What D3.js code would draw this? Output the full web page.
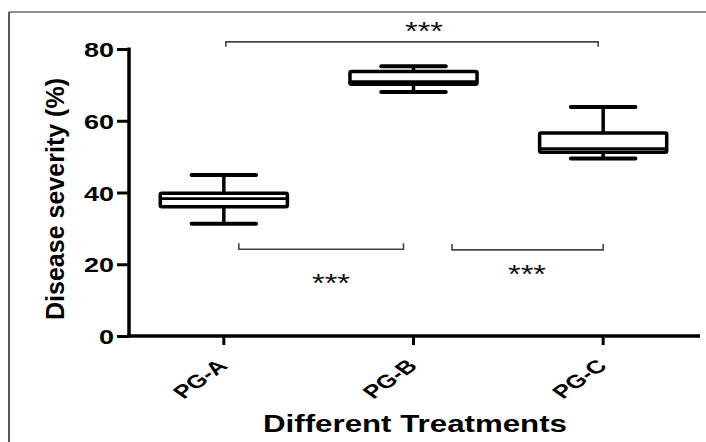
<!DOCTYPE html>
<html>
<head>
<meta charset="utf-8">
<script src="https://cdn.jsdelivr.net/npm/d3@7"></script>
<style>
  body { margin: 0; background: #fff; }
  text { font-family: Arial, "Liberation Sans", sans-serif; }
</style>
</head>
<body>
<svg id="chart" width="706" height="442"></svg>
<script>
// groups and box-plot values
let groups = ['PG-A', 'PG-B', 'PG-C'];
let whiskerLow = [31.3, 68.0, 49.5];
let q1 = [36.0, 70.2, 51.2];
let median = [38.3, 70.9, 52.2];
let q3 = [39.8, 73.7, 56.6];
let whiskerHigh = [44.9, 75.2, 63.8];
let yTicks = [0, 20, 40, 60, 80];

// significance brackets: from group, to group, level (y value)
let bracketFrom = ['PG-A', 'PG-A', 'PG-B'];
let bracketTo = ['PG-C', 'PG-B', 'PG-C'];
let bracketLevel = [82, 24.2, 24.0];
let bracketLabels = ['***', '***', '***'];

let svg = d3.select('#chart');

// frame round the figure
svg.append('line').attr('x1', 9).attr('x2', 706).attr('y1', 12).attr('y2', 12)
  .attr('stroke', '#666').attr('stroke-width', 1.5);
svg.append('line').attr('x1', 9).attr('x2', 9).attr('y1', 12).attr('y2', 442)
  .attr('stroke', '#222').attr('stroke-width', 1.5);

let x = d3.scaleBand().domain(groups).range([129, 698]).padding(0);
let y = d3.scaleLinear().domain([0, 80]).range([336, 49]);
let cx = g => x(g) + x.bandwidth() / 2;
let boxW = x.bandwidth() * 0.67;
let capW = x.bandwidth() * 0.34;

// y axis
let yAxis = svg.append('g')
  .attr('transform', 'translate(129,0)')
  .call(d3.axisLeft(y).tickValues(yTicks).tickSize(12).tickPadding(3));
yAxis.select('.domain').remove();
yAxis.selectAll('.tick line').attr('stroke', '#000').attr('stroke-width', 3);
yAxis.selectAll('.tick text')
  .attr('fill', '#000')
  .style('font-size', '21px').style('font-weight', 'bold')
  .attr('dy', '0.36em')
  .attr('textLength', d => String(d).length * 15)
  .attr('lengthAdjust', 'spacingAndGlyphs');
svg.append('line').attr('x1', 129).attr('x2', 129).attr('y1', y(80) - 1.5).attr('y2', 336)
  .attr('stroke', '#000').attr('stroke-width', 3.5);

// x axis
let xAxis = svg.append('g')
  .attr('transform', 'translate(0,336)')
  .call(d3.axisBottom(x).tickSize(9).tickFormat(''));
xAxis.select('.domain').remove();
xAxis.selectAll('.tick line').attr('stroke', '#000').attr('stroke-width', 3);
svg.append('line').attr('x1', 127.25).attr('x2', 700).attr('y1', 336).attr('y2', 336)
  .attr('stroke', '#000').attr('stroke-width', 3.5);

xAxis.selectAll('.tick').append('text')
  .attr('fill', '#000')
  .attr('text-anchor', 'end')
  .attr('transform', 'translate(5,31) scale(1.38,1) rotate(-45)')
  .style('font-size', '18.5px').style('font-weight', 'bold')
  .text(d => d);

// boxes
let boxes = svg.append('g').selectAll('g').data(groups).enter().append('g');
boxes.append('line')
  .attr('x1', g => cx(g)).attr('x2', g => cx(g))
  .attr('y1', (g, i) => y(whiskerHigh[i])).attr('y2', (g, i) => y(whiskerLow[i]))
  .attr('stroke', '#000').attr('stroke-width', 3.5);
boxes.append('rect')
  .attr('x', g => cx(g) - boxW / 2).attr('width', boxW)
  .attr('y', (g, i) => y(q3[i])).attr('height', (g, i) => y(q1[i]) - y(q3[i]))
  .attr('rx', 1.5)
  .attr('fill', '#fff').attr('stroke', '#000').attr('stroke-width', 3.5)
  .attr('stroke-linejoin', 'round');
boxes.append('line')
  .attr('x1', g => cx(g) - boxW / 2).attr('x2', g => cx(g) + boxW / 2)
  .attr('y1', (g, i) => y(median[i])).attr('y2', (g, i) => y(median[i]))
  .attr('stroke', '#000').attr('stroke-width', 2.8);
boxes.selectAll('.cap')
  .data((g, i) => [{g: g, v: whiskerHigh[i]}, {g: g, v: whiskerLow[i]}])
  .enter().append('line')
  .attr('x1', d => cx(d.g) - capW / 2).attr('x2', d => cx(d.g) + capW / 2)
  .attr('y1', d => y(d.v)).attr('y2', d => y(d.v))
  .attr('stroke', '#000').attr('stroke-width', 4).attr('stroke-linecap', 'round');

// significance brackets
let bracketPad = [[2, -5], [15, -10], [38.5, 0]];
let bracketTick = [5, -6, -6];
let starY = [40, 292, 283];
let starX = [424, 331, 527];
let br = svg.append('g');
bracketFrom.forEach((f, i) => {
  let x1 = cx(f) + bracketPad[i][0];
  let x2 = cx(bracketTo[i]) + bracketPad[i][1];
  let yy = y(bracketLevel[i]);
  br.append('path')
    .attr('d', `M${x1},${yy + bracketTick[i]}V${yy}H${x2}V${yy + bracketTick[i]}`)
    .attr('fill', 'none').attr('stroke', '#444').attr('stroke-width', 1.6);
  br.append('text')
    .attr('x', starX[i]).attr('y', starY[i])
    .attr('text-anchor', 'middle')
    .attr('textLength', 38).attr('lengthAdjust', 'spacingAndGlyphs')
    .style('font-size', '25px').attr('fill', '#111')
    .text(bracketLabels[i]);
});

// axis titles
svg.append('text')
  .attr('x', 415).attr('y', 432)
  .attr('text-anchor', 'middle')
  .attr('textLength', 304).attr('lengthAdjust', 'spacingAndGlyphs')
  .style('font-size', '23.5px').style('font-weight', 'bold')
  .text('Different Treatments');

svg.append('text')
  .attr('transform', 'translate(64,320) rotate(-90)')
  .attr('text-anchor', 'start')
  .attr('textLength', 242).attr('lengthAdjust', 'spacingAndGlyphs')
  .style('font-size', '26.5px').style('font-weight', 'bold')
  .text('Disease severity (%)');
</script>
</body>
</html>
